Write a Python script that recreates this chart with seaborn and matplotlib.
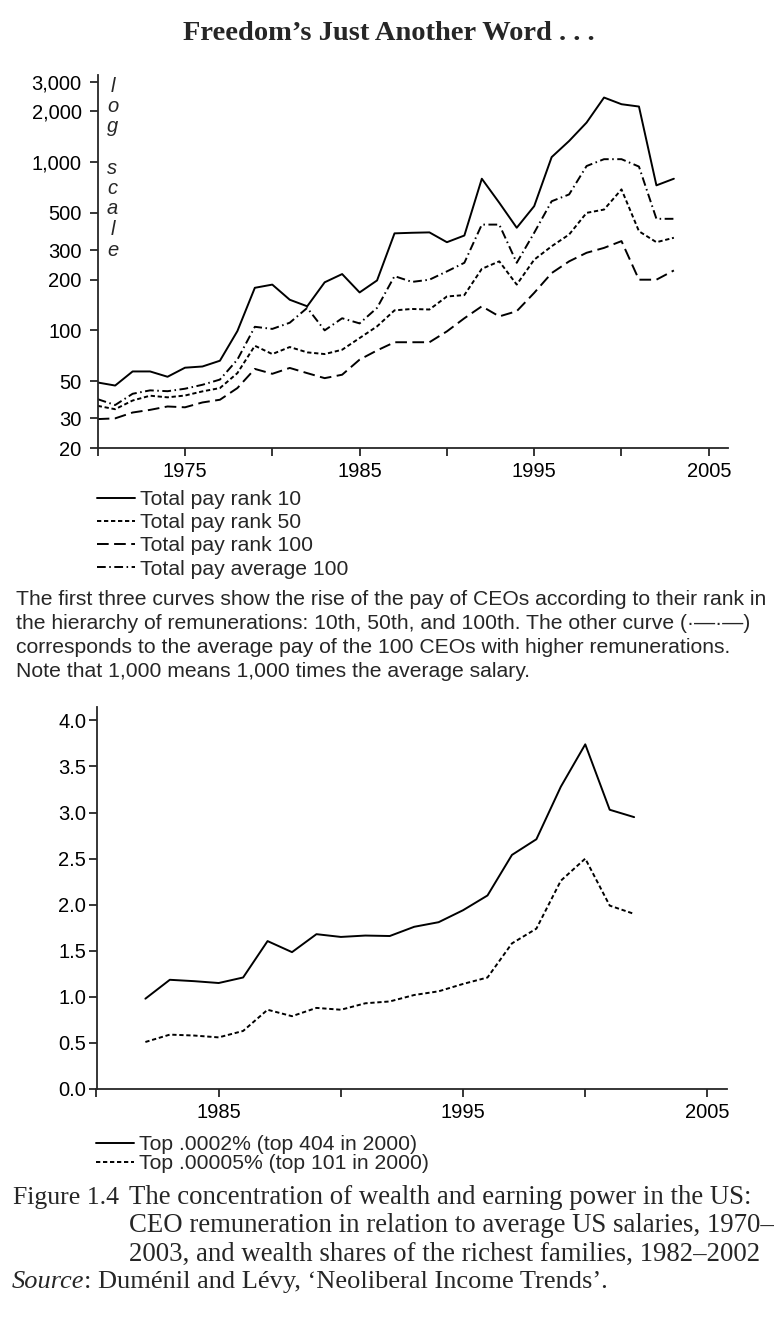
import numpy as np
import pandas as pd
import seaborn as sns
import matplotlib.pyplot as plt

# ---- data ----
years_ceo = list(range(1970, 2004))
rank10 = [49, 47, 57, 57, 53, 60, 61, 66, 99, 179, 187, 152, 139, 193, 216, 168, 198,
          377, 380, 382, 334, 366, 796, 573, 407, 547, 1070, 1334, 1716, 2417, 2206,
          2137, 727, 796]
rank50 = [35.6, 34, 38.3, 40.9, 40, 41, 43.4, 45.4, 55.7, 81, 72.3, 79.6, 74, 72.3,
          76.7, 90, 105.6, 131.5, 134, 133, 159, 162, 232, 257, 187, 263, 316, 371,
          499, 522, 688, 388, 334, 355]
rank100 = [29.7, 30, 32.5, 33.7, 35.3, 34.9, 37.3, 38.7, 45.4, 59, 55.2, 59.8, 55.7,
           52, 54.5, 67, 76, 85, 85, 85, 98.6, 118, 139, 121, 130, 167, 219, 257, 289,
           309, 339, 200, 200, 227]
avg100 = [39, 36, 42, 44, 43.5, 45, 47.5, 51, 67, 105, 102, 111, 136, 100, 118, 110,
          136, 210, 194, 200, 224, 252, 425, 425, 252, 380, 585, 642, 947, 1040, 1040,
          940, 460, 460]
ceo_labels = ["Total pay rank 10", "Total pay rank 50", "Total pay rank 100",
              "Total pay average 100"]

years_wealth = list(range(1982, 2003))
top404 = [0.98, 1.185, 1.17, 1.15, 1.21, 1.605, 1.485, 1.68, 1.65, 1.665, 1.66, 1.76,
          1.81, 1.94, 2.10, 2.54, 2.71, 3.28, 3.74, 3.03, 2.95]
top101 = [0.51, 0.59, 0.58, 0.56, 0.63, 0.86, 0.79, 0.88, 0.86, 0.93, 0.95, 1.02, 1.06,
          1.14, 1.21, 1.58, 1.74, 2.26, 2.50, 1.99, 1.90]
wealth_labels = ["Top .0002% (top 404 in 2000)", "Top .00005% (top 101 in 2000)"]

log_ticks = [20, 30, 50, 100, 200, 300, 500, 1000, 2000, 3000]
log_ticklabels = ["20", "30", "50", "100", "200", "300", "500", "1,000", "2,000", "3,000"]

title = "Freedom\u2019s Just Another Word . . ."
note_lines = [
    "The first three curves show the rise of the pay of CEOs according to their rank in",
    "the hierarchy of remunerations: 10th, 50th, and 100th. The other curve (\u00b7\u2014\u00b7\u2014)",
    "corresponds to the average pay of the 100 CEOs with higher remunerations.",
    "Note that 1,000 means 1,000 times the average salary.",
]
fig_label = "Figure 1.4"
caption_lines = [
    "The concentration of wealth and earning power in the US:",
    "CEO remuneration in relation to average US salaries, 1970\u2013",
    "2003, and wealth shares of the richest families, 1982\u20132002",
]
source_rest = ": Dum\u00e9nil and L\u00e9vy, \u2018Neoliberal Income Trends\u2019."

# ---- style ----
sns.set_style("ticks")
plt.rcParams["font.family"] = ["Liberation Sans", "DejaVu Sans"]
plt.rcParams["axes.linewidth"] = 1.3
FS = 14.5      # tick labels
FT = 15.2      # legends and note
SERIF = ["Liberation Serif", "DejaVu Serif"]

W, H = 783, 1329
fig = plt.figure(figsize=(W / 100, H / 100), dpi=100)


def box(l, t, r, b):
    return [l / W, 1 - b / H, (r - l) / W, (b - t) / H]


def fy(y):
    return 1 - y / H


# ---- top chart: CEO pay, log scale ----
ax1 = fig.add_axes(box(97.7, 75, 728, 448))
ceo = pd.DataFrame({"year": years_ceo, ceo_labels[0]: rank10, ceo_labels[1]: rank50,
                    ceo_labels[2]: rank100, ceo_labels[3]: avg100})
ceo = ceo.melt("year", var_name="series", value_name="value")
sns.lineplot(data=ceo, x="year", y="value", style="series", color="black", lw=1.4,
             dashes=["", (2.2, 1.4), (6, 2.8), (4.5, 1.8, 0.8, 1.8)], ax=ax1)
ax1.set_yscale("log")
ax1.set_ylim(20, 3290)
ax1.set_xlim(1970, 2006.1)
ax1.set_yticks(log_ticks)
ax1.set_yticklabels(log_ticklabels)
ax1.minorticks_off()
ax1.set_xticks(range(1970, 2006, 5))
ax1.set_xticklabels(["" if y % 10 == 0 else str(y) for y in range(1970, 2006, 5)])
ax1.set_xlabel("")
ax1.set_ylabel("")
ax1.tick_params(axis="both", labelsize=FS, length=6, width=1.1, colors="black")
ax1.tick_params(axis="y", pad=5.5)
ax1.tick_params(axis="x", pad=4)
sns.despine(ax=ax1)
h, l = ax1.get_legend_handles_labels()
ax1.legend(h, l, loc="upper left", bbox_to_anchor=(97 / W, fy(490)),
           bbox_transform=fig.transFigure, frameon=False, fontsize=FT,
           handlelength=1.8, handletextpad=0.25, labelspacing=0.2,
           borderpad=0, borderaxespad=0)

# vertical "log scale" label
for i, ch in enumerate("log scale"):
    if ch != " ":
        fig.text(112.5 / W, fy(91.5 + i * 20.5), ch, fontsize=FS, style="italic",
                 ha="center", va="baseline")

for i, line in enumerate(note_lines):
    fig.text(16 / W, fy(600 + i * 23.8), line, fontsize=FT, va="center", ha="left")

# ---- bottom chart: wealth shares ----
ax2 = fig.add_axes(box(96.5, 707, 727, 1089))
wealth = pd.DataFrame({"year": years_wealth, wealth_labels[0]: top404,
                       wealth_labels[1]: top101})
wealth = wealth.melt("year", var_name="series", value_name="value")
sns.lineplot(data=wealth, x="year", y="value", style="series", color="black", lw=1.4,
             dashes=["", (2.2, 1.4)], ax=ax2)
ax2.set_ylim(0, 4.145)
ax2.set_xlim(1980, 2005.8)
ax2.set_yticks(np.arange(0, 4.01, 0.5))
ax2.set_yticklabels([f"{v:.1f}" for v in np.arange(0, 4.01, 0.5)])
ax2.set_xticks(range(1980, 2006, 5))
ax2.set_xticklabels(["" if y % 10 == 0 else str(y) for y in range(1980, 2006, 5)])
ax2.set_xlabel("")
ax2.set_ylabel("")
ax2.tick_params(axis="both", labelsize=FS, length=6, width=1.1, colors="black")
ax2.tick_params(axis="y", pad=1.5)
ax2.tick_params(axis="x", pad=4)
sns.despine(ax=ax2)
h, l = ax2.get_legend_handles_labels()
ax2.legend(h, l, loc="upper left", bbox_to_anchor=(96 / W, fy(1135)),
           bbox_transform=fig.transFigure, frameon=False, fontsize=FT,
           handlelength=1.8, handletextpad=0.25, labelspacing=0.0,
           borderpad=0, borderaxespad=0)

# ---- title and caption ----
fig.text(389 / W, fy(33), title, fontsize=20.5, fontweight="bold", family=SERIF,
         ha="center", va="center")
fig.text(13 / W, fy(1198), fig_label, fontsize=18.5, family=SERIF, va="center")
for i, line in enumerate(caption_lines):
    fig.text(129 / W, fy(1198 + i * 28), line, fontsize=19.3, family=SERIF, va="center")
src = fig.text(12 / W, fy(1282), "Source", fontsize=19, family=SERIF, style="italic",
               va="center")
fig.canvas.draw()
bb = src.get_window_extent(fig.canvas.get_renderer())
fig.text(bb.x1 / W, fy(1282), source_rest, fontsize=19, family=SERIF, va="center")

fig.savefig("out.png", dpi=100, facecolor="white")
